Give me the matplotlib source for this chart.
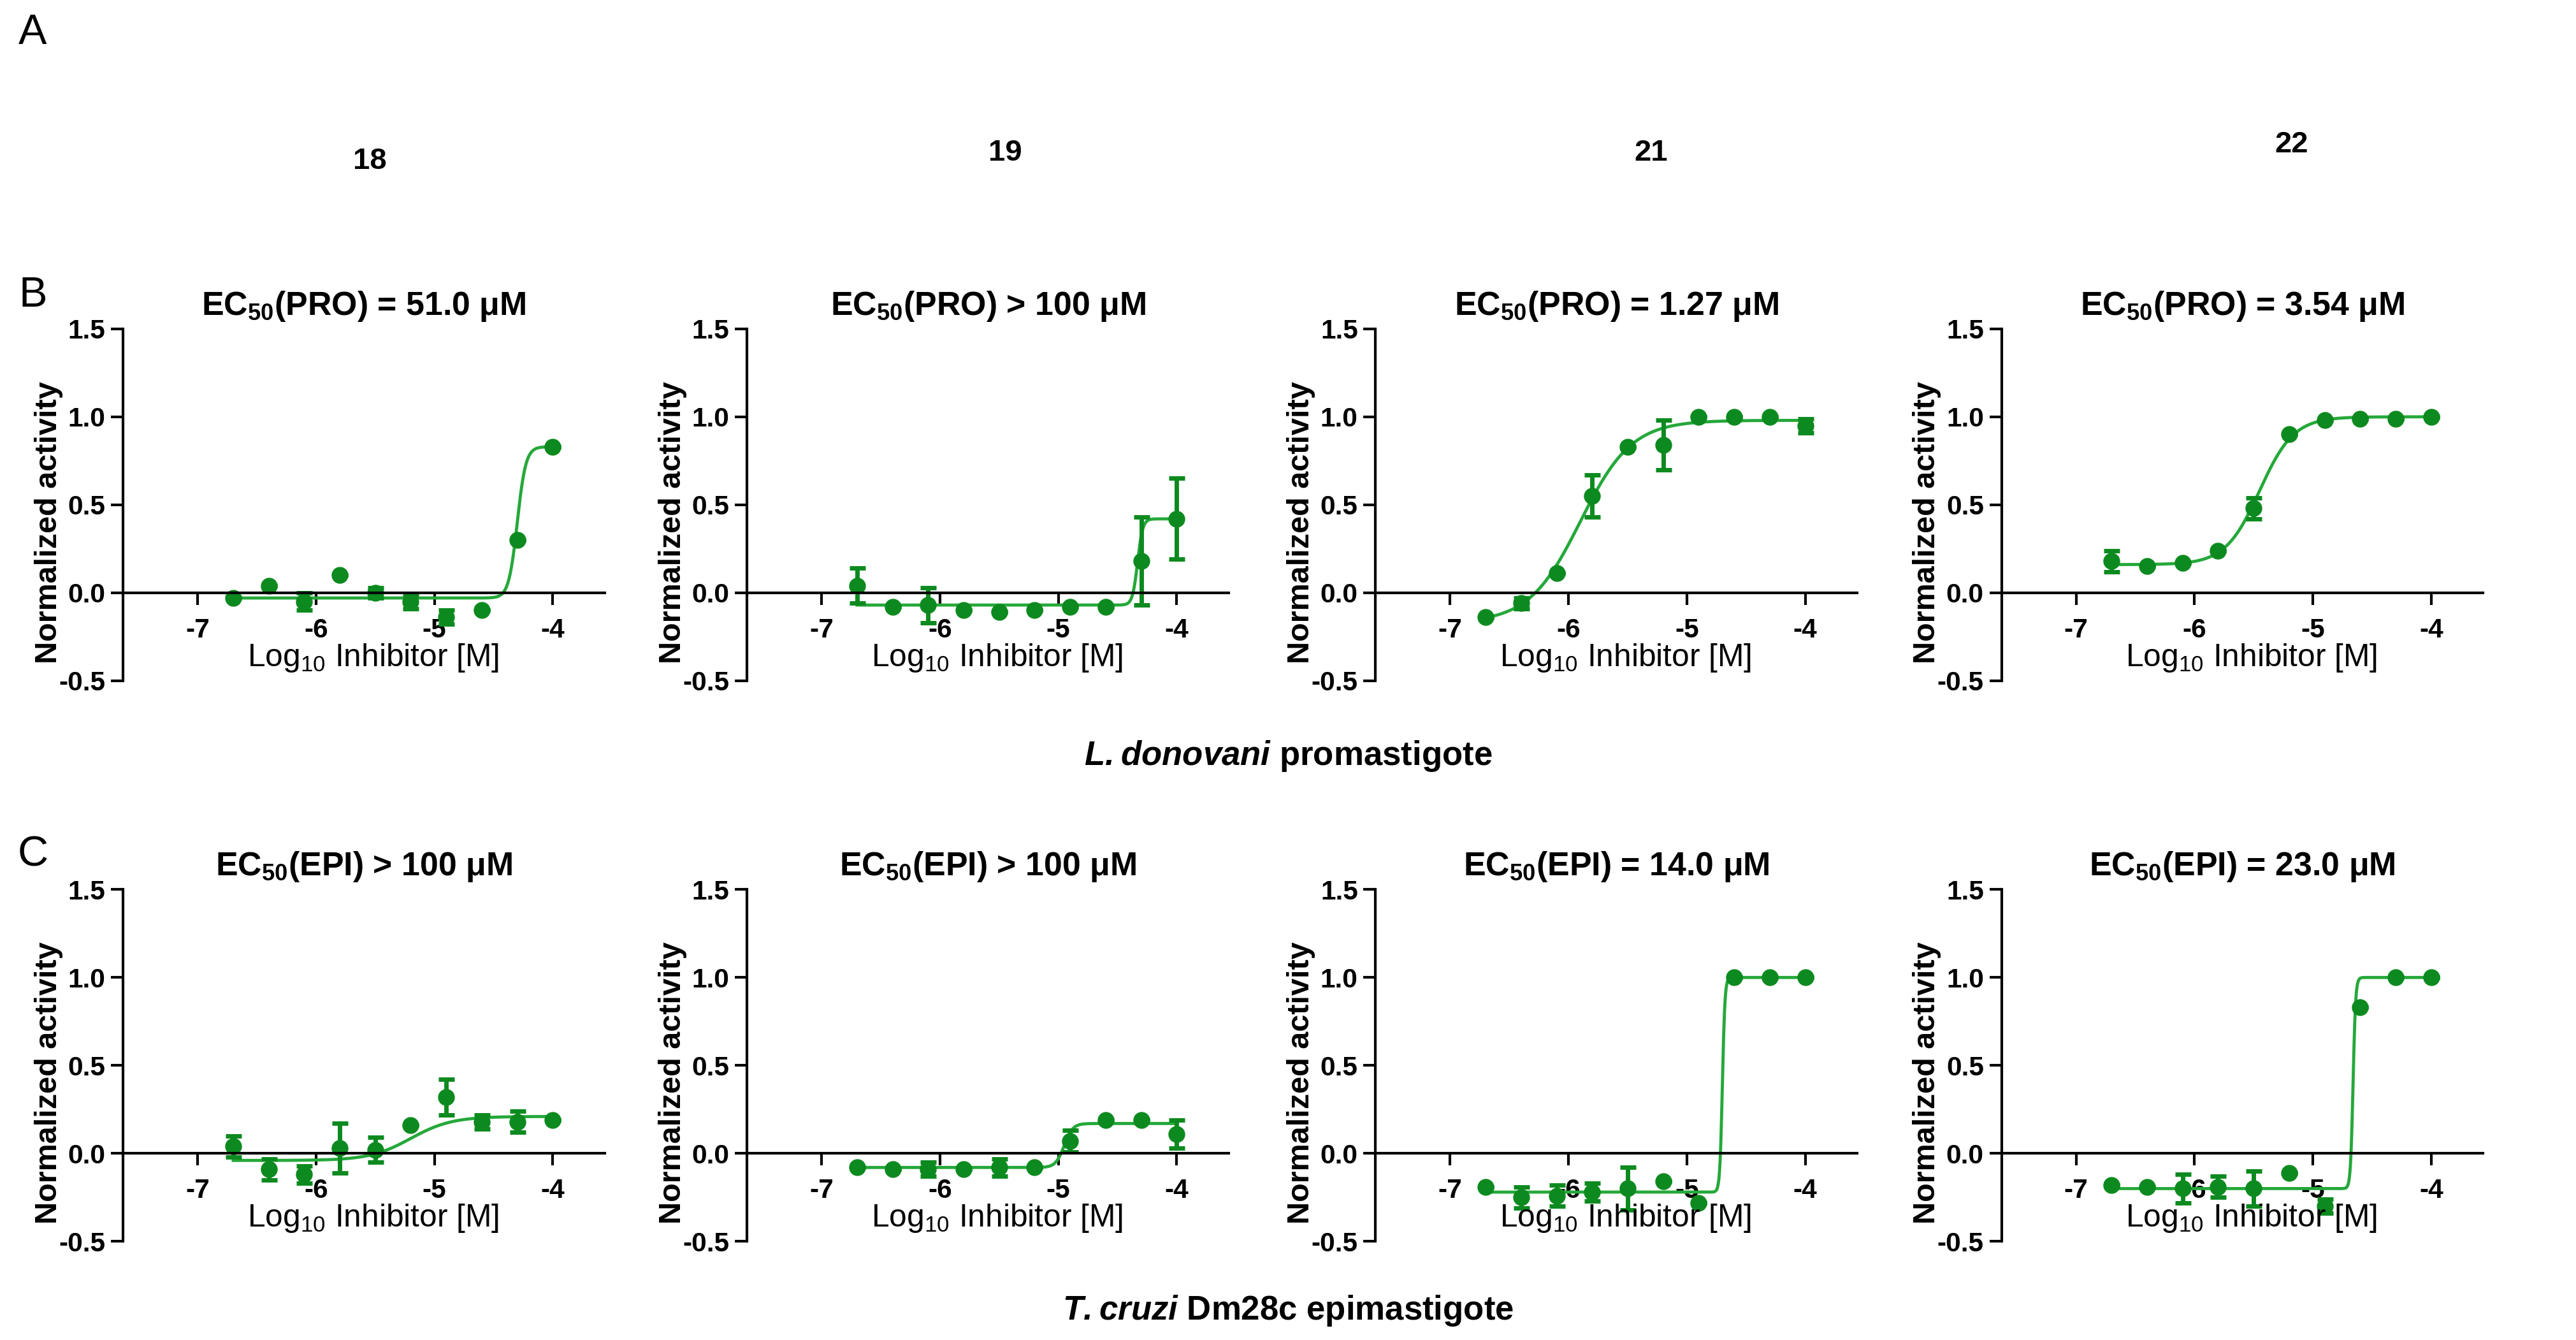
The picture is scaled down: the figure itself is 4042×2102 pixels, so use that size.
import numpy as np
import matplotlib
matplotlib.use("Agg")
import matplotlib.pyplot as plt
from matplotlib import font_manager as fm

names = {f.name for f in fm.fontManager.ttflist}
NARROW = 'Liberation Sans Narrow' if 'Liberation Sans Narrow' in names else 'Liberation Sans'
narrow_scale = 1.0 if NARROW == 'Liberation Sans Narrow' else 0.85

plt.rcParams['font.family'] = ['Liberation Sans', 'DejaVu Sans']
plt.rcParams['mathtext.fontset'] = 'custom'
plt.rcParams['mathtext.rm'] = NARROW
plt.rcParams['mathtext.bf'] = NARROW + ':bold'
plt.rcParams['mathtext.bfit'] = 'Liberation Sans:italic:bold'

GREEN = '#0d8a1f'
LINE = '#25a83a'
log_conc = [-6.7, -6.4, -6.1, -5.8, -5.5, -5.2, -4.9, -4.6, -4.3, -4.0]

titles_B = [r'EC$_{\mathbf{50}}$(PRO) = 51.0 μM', r'EC$_{\mathbf{50}}$(PRO) > 100 μM',
            r'EC$_{\mathbf{50}}$(PRO) = 1.27 μM', r'EC$_{\mathbf{50}}$(PRO) = 3.54 μM']
titles_C = [r'EC$_{\mathbf{50}}$(EPI) > 100 μM', r'EC$_{\mathbf{50}}$(EPI) > 100 μM',
            r'EC$_{\mathbf{50}}$(EPI) = 14.0 μM', r'EC$_{\mathbf{50}}$(EPI) = 23.0 μM']

vals_B = [
    [-0.03, 0.04, -0.05, 0.10, 0.00, -0.05, -0.14, -0.10, 0.30, 0.83],
    [0.04, -0.08, -0.07, -0.10, -0.11, -0.10, -0.08, -0.08, 0.18, 0.42],
    [-0.14, -0.06, 0.11, 0.55, 0.83, 0.84, 1.00, 1.00, 1.00, 0.95],
    [0.18, 0.15, 0.17, 0.24, 0.48, 0.90, 0.98, 0.99, 0.99, 1.00],
]
errs_B = [
    [0.0, 0.0, 0.05, 0.0, 0.03, 0.04, 0.04, 0.0, 0.0, 0.0],
    [0.10, 0.0, 0.10, 0.0, 0.0, 0.0, 0.0, 0.0, 0.25, 0.23],
    [0.0, 0.03, 0.0, 0.12, 0.0, 0.14, 0.0, 0.0, 0.0, 0.04],
    [0.06, 0.0, 0.0, 0.0, 0.06, 0.0, 0.0, 0.0, 0.0, 0.0],
]
vals_C = [
    [0.04, -0.09, -0.12, 0.03, 0.02, 0.16, 0.32, 0.18, 0.18, 0.19],
    [-0.08, -0.09, -0.09, -0.09, -0.08, -0.08, 0.07, 0.19, 0.19, 0.11],
    [-0.19, -0.25, -0.24, -0.22, -0.20, -0.16, -0.28, 1.00, 1.00, 1.00],
    [-0.18, -0.19, -0.20, -0.19, -0.20, -0.11, -0.30, 0.83, 1.00, 1.00],
]
errs_C = [
    [0.06, 0.06, 0.05, 0.14, 0.07, 0.0, 0.10, 0.04, 0.06, 0.0],
    [0.0, 0.0, 0.04, 0.0, 0.05, 0.0, 0.06, 0.0, 0.0, 0.08],
    [0.0, 0.06, 0.06, 0.05, 0.12, 0.0, 0.0, 0.0, 0.0, 0.0],
    [0.0, 0.0, 0.08, 0.06, 0.10, 0.0, 0.04, 0.0, 0.0, 0.0],
]
# fitted 4PL parameters: bottom, top, logEC50, hill
fit_B = [(-0.03, 0.83, -4.30, 12), (-0.07, 0.42, -4.33, 20),
         (-0.17, 0.98, -5.90, 2.0), (0.16, 1.00, -5.45, 3.0)]
fit_C = [(-0.04, 0.21, -5.20, 2.5), (-0.08, 0.17, -4.95, 12),
         (-0.22, 1.00, -4.70, 40), (-0.20, 1.00, -4.66, 40)]
compounds = ['18', '19', '21', '22']

fig = plt.figure(figsize=(40.42, 21.02), dpi=100)
lefts = [0.0478, 0.290, 0.534, 0.777]
width = 0.187

def panel(ax, title, vals, errs, fit):
    ax.set_xlim(-7.63, -3.56)
    ax.set_ylim(-0.5, 1.5)
    for s in ['top', 'right']:
        ax.spines[s].set_visible(False)
    ax.spines['bottom'].set_position(('data', 0))
    for s in ['left', 'bottom']:
        ax.spines[s].set_linewidth(3)
    ax.set_yticks([-0.5, 0.0, 0.5, 1.0, 1.5])
    ax.set_yticklabels(['-0.5', '0.0', '0.5', '1.0', '1.5'])
    ax.set_xticks([-7, -6, -5, -4])
    ax.set_xticklabels(['-7', '-6', '-5', '-4'])
    ax.tick_params(width=3, length=14, pad=6)
    for lab in ax.get_xticklabels() + ax.get_yticklabels():
        lab.set_fontfamily(NARROW)
        lab.set_fontsize(36 * narrow_scale)
        lab.set_fontweight('bold')
    ax.tick_params(axis='x', pad=14)
    ax.set_title(title, fontsize=44 * narrow_scale, fontweight='bold', pad=16, family=NARROW)
    ax.set_ylabel('Normalized activity', fontsize=35, fontweight='bold')
    ax.yaxis.set_label_coords(-0.125, 0.45)
    ax.text(-5.52, -0.37, r'Log$_{10}$ Inhibitor [M]', fontsize=42 * narrow_scale,
            ha='center', va='center', family=NARROW)
    b, t, ec, h = fit
    xs = np.linspace(log_conc[0], log_conc[-1], 800)
    ax.plot(xs, b + (t - b) / (1 + 10 ** ((ec - xs) * h)), color=LINE, lw=3.5)
    ax.errorbar(log_conc, vals, yerr=errs, fmt='o', color=GREEN, ms=18,
                elinewidth=5, capsize=9, capthick=5)

for i in range(4):
    axb = fig.add_axes([lefts[i], 0.492, width, 0.2626])
    panel(axb, titles_B[i], vals_B[i], errs_B[i], fit_B[i])
    axc = fig.add_axes([lefts[i], 0.0736, width, 0.2626])
    panel(axc, titles_C[i], vals_C[i], errs_C[i], fit_C[i])

comp_x = [225, 612, 1005, 1395]
comp_y = [98, 93, 93, 88]
for c, x, y in zip(compounds, comp_x, comp_y):
    fig.text(x / 1568, 1 - y / 815, c, fontsize=34, fontweight='bold', ha='center', va='center')

fig.text(20 / 1568, 1 - 20 / 815, 'A', fontsize=48, ha='center', va='center')
fig.text(20 / 1568, 1 - 180 / 815, 'B', fontsize=48, ha='center', va='center')
fig.text(20 / 1568, 1 - 520 / 815, 'C', fontsize=48, ha='center', va='center')
fig.text(0.5, 1 - 460 / 815, r'$\mathbfit{L.donovani}$ promastigote', fontsize=38,
         fontweight='bold', ha='center', va='center')
fig.text(0.5, 1 - 797 / 815, r'$\mathbfit{T.cruzi}$ Dm28c epimastigote', fontsize=38,
         fontweight='bold', ha='center', va='center')

fig.savefig('out.png', dpi=100)
